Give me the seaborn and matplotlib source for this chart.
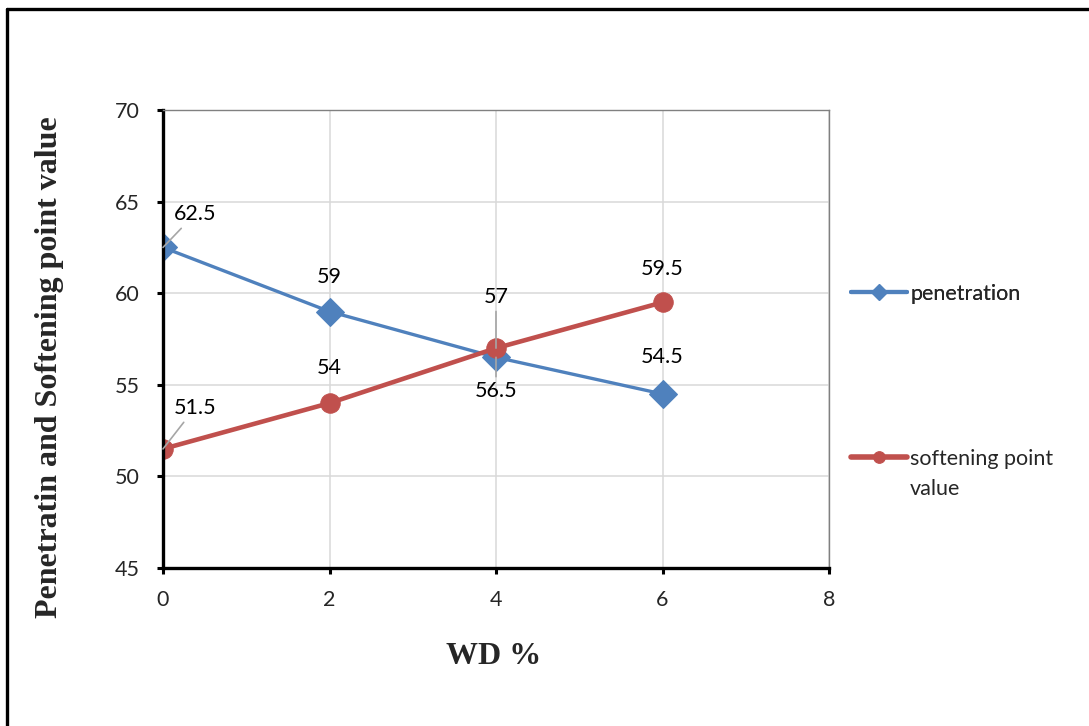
import matplotlib
matplotlib.use("Agg")
import matplotlib.pyplot as plt
import seaborn as sns
import pandas as pd
from matplotlib.lines import Line2D

# ---- data ----
wd = [0, 2, 4, 6]
penetration = [62.5, 59, 56.5, 54.5]
softening = [51.5, 54, 57, 59.5]
series_names = ["penetration", "softening point value"]
x_ticks = [0, 2, 4, 6, 8]
y_ticks = [45, 50, 55, 60, 65, 70]

# label offsets (points) relative to each data point
pen_offsets = [(23, 24), (0, 25), (0, -24.5), (0, 26.5)]
pen_leaders = [True, False, True, False]
soft_offsets = [(23, 29.5), (0, 25), (0, 37), (0, 24)]
soft_leaders = [True, False, True, False]

BLUE = "#4F81BD"
RED = "#C0504D"
FS = 15.5

sns.set_style("white")
plt.rcParams["font.family"] = ["Lato", "DejaVu Sans"]

fig = plt.figure(figsize=(10.89, 7.26), dpi=100)
ax = fig.add_axes([163 / 1089, 1 - 568 / 726, (829 - 163) / 1089, (568 - 110) / 726])

df_pen = pd.DataFrame({"wd": wd, "v": penetration})
df_soft = pd.DataFrame({"wd": wd, "v": softening})

sns.lineplot(data=df_pen, x="wd", y="v", ax=ax, color=BLUE, marker="D",
             markersize=14, markeredgecolor=BLUE, linewidth=2.4, label=series_names[0])
sns.lineplot(data=df_soft, x="wd", y="v", ax=ax, color=RED, marker="o",
             markersize=14, markeredgecolor=RED, linewidth=3.3, label=series_names[1])

ax.set_xlim(0, 8)
ax.set_ylim(45, 70)
ax.set_xticks(x_ticks)
ax.set_yticks(y_ticks)
ax.set_xticklabels([str(t) for t in x_ticks])
ax.set_yticklabels([str(t) for t in y_ticks])
ax.grid(True, color="#d9d9d9", linewidth=1.1)
ax.set_axisbelow(True)
ax.set_xlabel("")
ax.set_ylabel("")

for s in ["left", "bottom"]:
    ax.spines[s].set_color("black")
    ax.spines[s].set_linewidth(2.4)
for s in ["top", "right"]:
    ax.spines[s].set_color("#808080")
    ax.spines[s].set_linewidth(1.0)
    ax.spines[s].set_visible(True)

ax.tick_params(axis="both", which="major", direction="out", length=4.5, width=2.2,
               color="black", labelsize=FS, bottom=True, left=True)
ax.tick_params(axis="x", pad=11)
ax.tick_params(axis="y", pad=12)

def add_labels(xs, ys, offsets, leaders):
    for xv, yv, off, ld in zip(xs, ys, offsets, leaders):
        kw = {}
        if ld:
            kw["arrowprops"] = dict(arrowstyle="-", color="#a6a6a6", lw=1.2,
                                    shrinkA=1, shrinkB=0)
        lab = f"{yv:g}"
        ax.annotate(lab, xy=(xv, yv), xytext=off, textcoords="offset points",
                    ha="center", va="center", fontsize=FS, color="black", zorder=5, **kw)

add_labels(wd, penetration, pen_offsets, pen_leaders)
add_labels(wd, softening, soft_offsets, soft_leaders)

# legends (two separate entries positioned like the reference)
handles, labels = ax.get_legend_handles_labels()
if ax.get_legend():
    ax.get_legend().remove()
leg1 = fig.legend([handles[0]], [labels[0]], loc="center left",
                  bbox_to_anchor=(851 / 1089, 1 - 294 / 726), frameon=False,
                  fontsize=FS, handlelength=2.6, handletextpad=0.15,
                  borderpad=0, borderaxespad=0, markerscale=0.55)
first, rest = labels[1].rsplit(" ", 1)
leg2 = fig.legend([handles[1]], [first], loc="center left",
                  bbox_to_anchor=(851 / 1089, 1 - 459 / 726), frameon=False,
                  fontsize=FS, handlelength=2.6, handletextpad=0.15,
                  borderpad=0, borderaxespad=0, markerscale=0.6)
fig.add_artist(leg1)
for h in leg2.legend_handles:
    h.set_linewidth(4)
for h in leg1.legend_handles:
    h.set_linewidth(3)

fig.canvas.draw()
bb = leg2.get_texts()[0].get_window_extent()
fig.text(bb.x0 / fig.bbox.width, 1 - 489 / 726, rest, ha="left", va="center",
         fontsize=FS)

# axis titles
fig.text(50 / 1089, 1 - 367 / 726, "Penetratin and Softening point value",
         rotation=90, ha="center", va="center", fontsize=23, fontweight="bold",
         family=["Liberation Serif", "DejaVu Serif"])
fig.text(494 / 1089, 1 - 657 / 726, "WD %", ha="center", va="center",
         fontsize=23, fontweight="bold", family=["Liberation Serif", "DejaVu Serif"])

# outer frame (top and left)
fig.add_artist(Line2D([6.5 / 1089, 1], [1 - 8.5 / 726, 1 - 8.5 / 726],
                      transform=fig.transFigure, color="black", lw=2.4))
fig.add_artist(Line2D([6.5 / 1089, 6.5 / 1089], [0, 1 - 8.5 / 726],
                      transform=fig.transFigure, color="black", lw=2.4))

fig.savefig("out.png", dpi=100, facecolor="white")
